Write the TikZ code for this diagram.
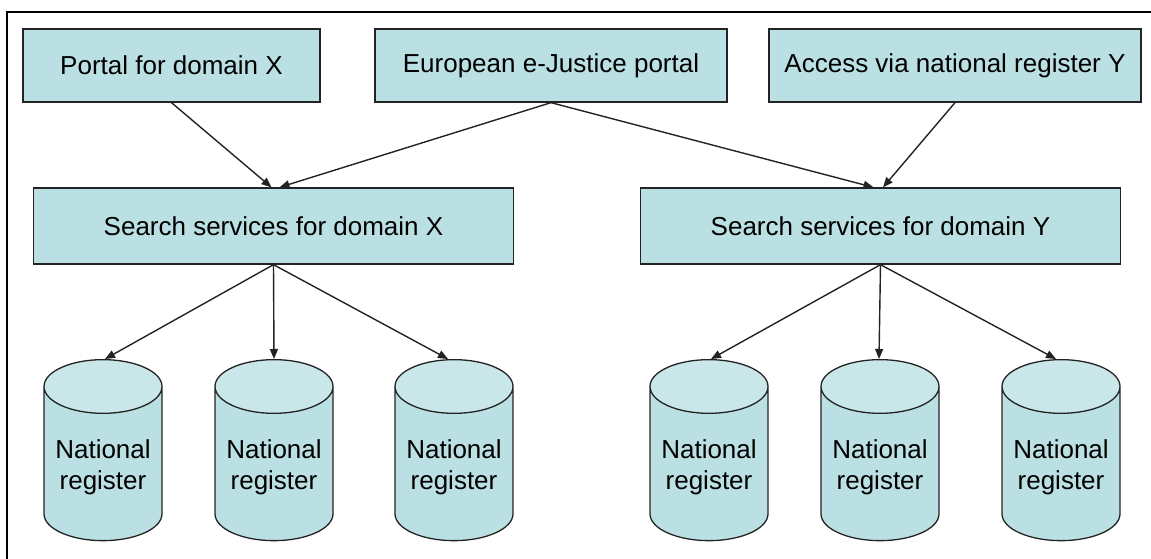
\documentclass[tikz,border=0pt]{standalone}
\usepackage{fontspec}
\setmainfont{Liberation Sans}
\usetikzlibrary{shapes.geometric,arrows.meta}
\definecolor{boxfill}{RGB}{187,224,227}
\definecolor{topfill}{RGB}{201,231,233}
\definecolor{edge}{RGB}{35,35,35}

\begin{document}
\begin{tikzpicture}
    [x=1pt,y=-1pt, every node/.style={font=\fontsize{26}{31}\selectfont, text=black, line width=1.3pt},
     portal/.style={rectangle, draw=edge, fill=boxfill, minimum width=#1, minimum height=73pt},
     search/.style={rectangle, draw=edge, fill=boxfill, minimum width=480pt, minimum height=76pt},
     register/.style={cylinder, shape border rotate=90, aspect=0.54, draw=edge, cylinder uses custom fill,
       cylinder body fill=boxfill, cylinder end fill=topfill, minimum width=118pt, minimum height=181pt,
       align=center, inner sep=2pt, anchor=north},
     link/.style={-{Triangle[length=10pt,width=8pt]}, line width=1.4pt, draw=edge}]
    \useasboundingbox (0,0) rectangle (1151,559);
    \draw[line width=2.4pt] (7,559) -- (7,12) -- (1151,12);
    \node[portal=297pt] (px) at (171.5,65.5) {Portal for domain X};
    \node[portal=352pt] (ep) at (551,65.5) {European e-Justice portal};
    \node[portal=372pt] (ay) at (955,65.5) {Access via national register Y};
    \node[search] (sx) at (273.5,226) {Search services for domain X};
    \node[search] (sy) at (880.5,226) {Search services for domain Y};
    \node[register] (rx1) at (103,359) {National\\register};
    \node[register] (rx2) at (274,359) {National\\register};
    \node[register] (rx3) at (454,359) {National\\register};
    \node[register] (ry1) at (709,359) {National\\register};
    \node[register] (ry2) at (880,359) {National\\register};
    \node[register] (ry3) at (1061,359) {National\\register};
    \draw[link] (px.south) -- ([xshift=-2pt]sx.north);
    \draw[link] (ep.south) -- ([xshift=6pt]sx.north);
    \draw[link] (ep.south) -- ([xshift=-7pt]sy.north);
    \draw[link] (ay.south) -- ([xshift=2.5pt]sy.north);
    \draw[link] (sx.south) -- ([xshift=2pt]rx1.north);
    \draw[link] (sx.south) -- (rx2.north);
    \draw[link] (sx.south) -- ([xshift=-6pt]rx3.north);
    \draw[link] (sy.south) -- ([xshift=2pt]ry1.north);
    \draw[link] (sy.south) -- ([xshift=-1pt]ry2.north);
    \draw[link] (sy.south) -- ([xshift=-5pt]ry3.north);
  \end{tikzpicture}
\end{document}
